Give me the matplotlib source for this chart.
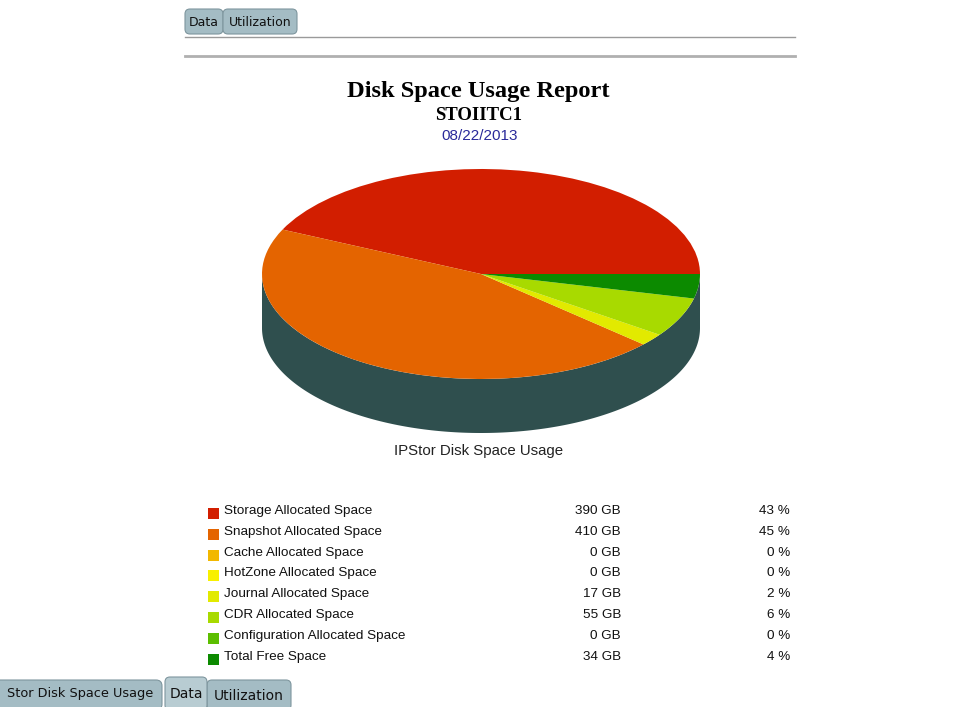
import numpy as np
import matplotlib.pyplot as plt
from matplotlib.patches import FancyBboxPatch, Rectangle

# --- Datos del informe ---
categorias = ['Storage Allocated Space', 'Snapshot Allocated Space',
              'Cache Allocated Space', 'HotZone Allocated Space',
              'Journal Allocated Space', 'CDR Allocated Space',
              'Configuration Allocated Space', 'Total Free Space']
espacio_gb = [390, 410, 0, 0, 17, 55, 0, 34]
porcentajes = [43, 45, 0, 0, 2, 6, 0, 4]
colores = ['#d21e00', '#e46400', '#f2b800', '#f8f000',
           '#e2ea00', '#a8da00', '#5cbe00', '#0c8a00']

titulo = 'Disk Space Usage Report'
servidor = 'STOIITC1'
fecha = '08/22/2013'
subtitulo_pie = 'IPStor Disk Space Usage'

W, H = 955, 707
fig = plt.figure(figsize=(W / 100, H / 100), dpi=100)
fig.patch.set_facecolor('white')

# ejes de fondo en pixeles (origen arriba a la izquierda)
bg = fig.add_axes([0, 0, 1, 1])
bg.set_xlim(0, W)
bg.set_ylim(H, 0)
bg.axis('off')


def pestana(x, y, w, h, texto, activa=False, tam=9.5):
    color = '#b8ccd2' if activa else '#a4bcc4'
    p = FancyBboxPatch((x, y), w, h, boxstyle='round,pad=0,rounding_size=5',
                       fc=color, ec='#7e969e', lw=0.8, mutation_aspect=1)
    bg.add_patch(p)
    bg.text(x + w / 2, y + h / 2 + 1, texto, ha='center', va='center',
            fontsize=tam, family='DejaVu Sans', color='#111111')


# pestanas superiores y lineas separadoras
pestana(185, 9, 38, 25, 'Data', tam=9)
pestana(223, 9, 74, 25, 'Utilization', tam=9)
bg.plot([185, 795], [36.5, 36.5], color='#9a9a9a', lw=1)
bg.plot([185, 795], [56, 56], color='#b0b0b0', lw=2)

# titulos
bg.text(478, 92, titulo, ha='center', va='center', fontsize=17.6,
        fontweight='bold', family='Liberation Serif', color='black')
bg.text(479, 116, servidor, ha='center', va='center', fontsize=13.5,
        fontweight='bold', family='Liberation Serif', color='black')
bg.text(480, 136, fecha, ha='center', va='center', fontsize=11,
        family='Liberation Sans', color='#2a2a9a')

# --- Pie con perspectiva (elipse) ---
cx, cy, rx, ry = 481, 274, 219, 105
prof = 54 / ry
x0, x1 = -1.05, 1.05
y0, y1 = -1.6, 1.05
ax = fig.add_axes([(cx + x0 * rx) / W, (H - (cy - y0 * ry)) / H,
                   (x1 - x0) * rx / W, (y1 - y0) * ry / H])
ax.pie(espacio_gb, colors=colores, startangle=0, counterclock=True,
       radius=1, wedgeprops=dict(linewidth=0))
ax.set_aspect('auto')
ax.set_xlim(x0, x1)
ax.set_ylim(y0, y1)
ax.axis('off')

# lateral del cilindro
t = np.linspace(np.pi, 2 * np.pi, 200)
xs = np.concatenate([np.cos(t), np.cos(t[::-1])])
ys = np.concatenate([np.sin(t), np.sin(t[::-1]) - prof])
ax.fill(xs, ys, color='#2f4f4e', zorder=0, lw=0)

bg.text(479, 451, subtitulo_pie, ha='center', va='center', fontsize=10.8,
        family='Liberation Sans', color='#222222')

# --- Tabla de leyenda ---
fila0, paso = 511, 20.8
for i, (cat, gb, pc, col) in enumerate(zip(categorias, espacio_gb,
                                           porcentajes, colores)):
    y = fila0 + i * paso
    bg.add_patch(Rectangle((208, y - 3), 11, 11, fc=col, ec='none'))
    bg.text(224, y, cat, ha='left', va='center', fontsize=9.7,
            family='Liberation Sans', color='#111111')
    bg.text(621, y, f'{gb} GB', ha='right', va='center', fontsize=9.7,
            family='Liberation Sans', color='#111111')
    bg.text(790, y, f'{pc} %', ha='right', va='center', fontsize=9.7,
            family='Liberation Sans', color='#111111')

# pestanas inferiores
bg.add_patch(FancyBboxPatch((-10, 680), 172, 30,
                            boxstyle='round,pad=0,rounding_size=6',
                            fc='#a4bcc4', ec='#7e969e', lw=0.8))
bg.text(7, 693, 'Stor Disk Space Usage', ha='left', va='center',
        fontsize=9.3, family='DejaVu Sans', color='#111111')
pestana(207, 680, 84, 30, 'Utilization', tam=10)
pestana(165, 677, 42, 33, 'Data', activa=True, tam=10)

fig.savefig('out.png', dpi=100, facecolor='white')
